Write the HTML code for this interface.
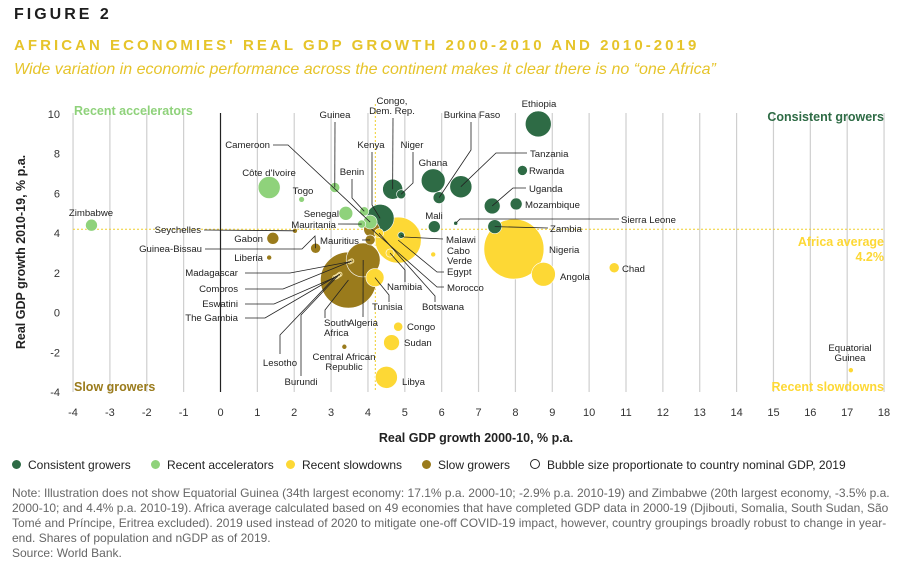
<!DOCTYPE html>
<html><head><meta charset="utf-8">
<style>
body{margin:0;width:917px;height:566px;background:#fff;font-family:"Liberation Sans",sans-serif;overflow:hidden;position:relative}
.h{position:absolute;white-space:nowrap}
svg text{font-family:"Liberation Sans",sans-serif}
</style></head><body>
<div class="h" style="left:14px;top:6px;font-size:16px;font-weight:bold;letter-spacing:3px;color:#1d1d1d">FIGURE 2</div>
<div class="h" style="left:14px;top:37px;font-size:15px;font-weight:bold;letter-spacing:3.05px;color:#e6c42a">AFRICAN ECONOMIES' REAL GDP GROWTH 2000-2010 AND 2010-2019</div>
<div class="h" style="left:14px;top:61px;font-size:16px;font-style:italic;color:#e6c42a">Wide variation in economic performance across the continent makes it clear there is no “one Africa”</div>

<svg id="chart" width="917" height="566" style="position:absolute;left:0;top:0" xmlns="http://www.w3.org/2000/svg"></svg>

<div class="h" style="left:12px;top:458px;font-size:12px;color:#222">
<span style="position:absolute;left:0"><span style="display:inline-block;width:9px;height:9px;border-radius:50%;background:#2e6b45;margin-right:7px"></span>Consistent growers</span>
<span style="position:absolute;left:139px"><span style="display:inline-block;width:9px;height:9px;border-radius:50%;background:#8fd27b;margin-right:7px"></span>Recent accelerators</span>
<span style="position:absolute;left:274px"><span style="display:inline-block;width:9px;height:9px;border-radius:50%;background:#fdd835;margin-right:7px"></span>Recent slowdowns</span>
<span style="position:absolute;left:410px"><span style="display:inline-block;width:9px;height:9px;border-radius:50%;background:#9a7b1c;margin-right:7px"></span>Slow growers</span>
<span style="position:absolute;left:518px"><span style="display:inline-block;width:8px;height:8px;border-radius:50%;border:1px solid #222;margin-right:7px"></span>Bubble size proportionate to country nominal GDP, 2019</span>
</div>
<div class="h" style="left:12px;top:486px;font-size:12px;line-height:15px;color:#666;white-space:normal;width:895px">Note: Illustration does not show Equatorial Guinea (34th largest economy: 17.1% p.a. 2000-10; -2.9% p.a. 2010-19) and Zimbabwe (20th largest economy, -3.5% p.a. 2000-10; and 4.4% p.a. 2010-19). Africa average calculated based on 49 economies that have completed GDP data in 2000-19 (Djibouti, Somalia, South Sudan, São Tomé and Príncipe, Eritrea excluded). 2019 used instead of 2020 to mitigate one-off COVID-19 impact, however, country groupings broadly robust to change in year-end. Shares of population and nGDP as of 2019.<br>Source: World Bank.</div>

<script>
const countries=["Zimbabwe","Côte d'Ivoire","Togo","Guinea","Senegal","Benin","Mauritania","Cameroon","Kenya","Seychelles","Gabon","Guinea-Bissau","Liberia","Mauritius","Morocco","Algeria","South Africa","Madagascar","Comoros","Eswatini","The Gambia","Lesotho","Burundi","Central African Republic","Egypt","Namibia","Tunisia","Congo","Sudan","Libya","Cabo Verde","Mali","Sierra Leone","Malawi","Botswana","Congo, Dem. Rep.","Niger","Ghana","Burkina Faso","Tanzania","Ethiopia","Rwanda","Uganda","Mozambique","Zambia","Nigeria","Angola","Chad","Equatorial Guinea"];
const growth0010=[-3.5,1.32,2.2,3.1,3.4,3.9,3.83,4.06,4.33,2.02,1.42,2.58,1.32,4.06,4.1,3.87,3.47,3.51,3.56,3.15,3.24,3.1,3.2,3.36,4.82,4.6,4.19,4.82,4.64,4.5,5.77,5.8,6.38,4.9,4.3,4.67,4.9,5.77,5.93,6.52,8.62,8.19,7.37,8.02,7.44,7.96,8.76,10.68,17.1];
const growth1019=[4.4,6.3,5.7,6.3,5.0,5.1,4.46,4.56,4.75,4.12,3.74,3.24,2.77,3.66,4.2,2.65,1.64,2.56,2.6,1.81,1.93,1.77,1.88,-1.72,3.65,3.0,1.76,-0.71,-1.51,-3.26,2.93,4.33,4.5,3.9,4.0,6.21,5.96,6.64,5.79,6.34,9.5,7.16,5.37,5.47,4.33,3.2,1.93,2.26,-2.9];
const gdp2019=[17,58,4,12,23,10,8,23,93,3,17,12,3,12,30,137,372,2,2,2,2,2,2,3,252,8,39,10,30,58,3,17,2,5,10,48,10,68,17,58,80,12,30,17,23,428,68,12,3];
const group=["a","a","a","a","a","a","a","a","c","s","s","s","s","s","s","s","s","o","o","o","o","o","o","s","y","y","y","y","y","y","y","c","c","c","y","c","c","c","c","c","c","c","c","c","c","y","y","y","y"];
const xTicks=[-4,-3,-2,-1,0,1,2,3,4,5,6,7,8,9,10,11,12,13,14,15,16,17,18];
const yTicks=[10,8,6,4,2,0,-2,-4];
const africaAvg=4.2;
const labels=[
["Zimbabwe",[91,216],"middle",null],["Côte d'Ivoire",[269,176],"middle",null],["Togo",[303,194],"middle",null],
["Guinea",[335,118],"middle",[[335,122]]],["Cameroon",[270,148],"end",[[273,145],[288,145]]],
["Benin",[352,175],"middle",[[352,179],[352,198]]],["Kenya",[371,148],"middle",[[372,152],[372,205]]],
["Senegal",[339,217],"end",null],["Mauritania",[336,228],"end",[[338,224]]],["Seychelles",[201,233],"end",[[204,230]]],
["Gabon",[263,242],"end",null],["Guinea-Bissau",[202,252],"end",[[205,249],[302,249],[315,236]]],["Liberia",[263,261],"end",null],
["Mauritius",[320,244],"start",[[362,240]]],["Madagascar",[238,276],"end",[[245,273],[290,273]]],["Comoros",[238,292],"end",[[245,289],[283,289]]],
["Eswatini",[238,307],"end",[[245,304],[274,304]]],["The Gambia",[238,321],"end",[[245,318],[265,318]]],
["South|Africa",[324,326],"start",[[325,318],[325,310]]],["Algeria",[363,326],"middle",[[363,317]]],
["Lesotho",[280,366],"middle",[[280,354],[280,335]]],["Burundi",[301,385],"middle",[[301,376],[301,315]]],
["Central African|Republic",[344,360],"middle",null],["Namibia",[387,290],"start",[[405,282],[405,270]]],
["Tunisia",[372,310],"start",[[389,302],[389,295]]],["Botswana",[422,310],"start",[[435,302],[435,296]]],
["Congo",[407,330],"start",null],["Sudan",[404,346],"start",null],["Libya",[402,385],"start",null],
["Congo,|Dem. Rep.",[392,104],"middle",[[393,118]]],["Niger",[412,148],"middle",[[413,152],[413,183]]],
["Ghana",[433,166],"middle",null],["Burkina Faso",[472,118],"middle",[[471,122],[471,150]]],
["Ethiopia",[539,107],"middle",null],["Tanzania",[530,157],"start",[[527,153],[496,153]]],["Rwanda",[529,174],"start",null],
["Uganda",[529,192],"start",[[526,188],[513,188]]],["Mozambique",[525,208],"start",null],["Mali",[434,219],"middle",null],
["Sierra Leone",[621,223],"start",[[619,219],[460,219]]],["Zambia",[550,232],"start",[[548,228]]],
["Malawi",[446,243],"start",[[443,239],[404,237]]],["Cabo|Verde",[447,254],"start",null],["Egypt",[447,275],"start",[[444,272],[437,272]]],
["Morocco",[447,291],"start",[[444,287],[437,287]]],["Nigeria",[549,253],"start",null],["Angola",[560,280],"start",null],
["Chad",[622,272],"start",null],["Equatorial|Guinea",[850,351],"middle",null]];
const colors={c:"#2e6b45",a:"#8fd27b",y:"#fdd835",s:"#9a7b1c",o:"#9a7b1c"};
const X=v=>220.5+v*36.864, Y=v=>312.6-v*19.857;
const svg=document.getElementById('chart'), NS="http://www.w3.org/2000/svg";
function mk(t,a){const e=document.createElementNS(NS,t);for(const k in a)e.setAttribute(k,a[k]);svg.appendChild(e);return e;}
xTicks.forEach(t=>{
  const l=mk('line',{x1:X(t),x2:X(t),y1:113,y2:392,stroke:t===0?'#222':'#cfcfcf','stroke-width':1.2});
  
  
  const tx=mk('text',{x:X(t),y:416,'text-anchor':'middle','font-size':11,fill:'#333'});tx.textContent=t;
  
  
});
yTicks.forEach(t=>{
  const tx=mk('text',{x:60,y:Y(t)+4,'text-anchor':'end','font-size':11,fill:'#333'});tx.textContent=t;
  
  
});
let av=mk('line',{x1:X(africaAvg),x2:X(africaAvg),y1:104,y2:392,stroke:'#f0cf2c','stroke-dasharray':'2,2'});


av=mk('line',{x1:73,x2:884,y1:Y(africaAvg),y2:Y(africaAvg),stroke:'#f0cf2c','stroke-dasharray':'2,2'});


const idx=countries.map((c,i)=>i).sort((a,b)=>gdp2019[b]-gdp2019[a]);
idx.forEach(i=>{
  const o=group[i]==='o';
  const c=mk('circle',{cx:X(growth0010[i]),cy:Y(growth1019[i]),r:1.45*Math.sqrt(gdp2019[i]),fill:o?'none':colors[group[i]],stroke:o?'#f4e3a6':'#fff','stroke-width':o?1:0.6});
  
  
});
labels.forEach(L=>{
  let ci=countries.indexOf(L[0].replace('|',' '));
  if(L[3]&&ci>=0){
    const pts=L[3].concat([[X(growth0010[ci]),Y(growth1019[ci])]]).map(p=>p.join(',')).join(' ');
    const p=mk('polyline',{points:pts,fill:'none',stroke:'#222','stroke-width':0.8});
    
    
  }
  L[0].split('|').forEach((s,k)=>{
    const t=mk('text',{x:L[1][0],y:L[1][1]+k*10,'text-anchor':L[2],'font-size':9.6,fill:'#222'});t.textContent=s;
    
    
  });
});
function q(txt,x,y,anc,col,name){const t=mk('text',{x:x,y:y,'text-anchor':anc,'font-size':12.5,'font-weight':'bold',fill:col});t.textContent=txt;
  
  }
q("Recent accelerators",74,115,'start','#8fd27b','quadrant-recent-accelerators');
q("Consistent growers",884,121,'end','#2e6b45','quadrant-consistent-growers');
q("Slow growers",74,391,'start','#9a7b1c','quadrant-slow-growers');
q("Recent slowdowns",884,391,'end','#fdd835','quadrant-recent-slowdowns');
q("Africa average",884,246,'end','#fdd835','africa-average-label');
q("4.2%",884,261,'end','#fdd835','africa-average-value');
let t=mk('text',{x:476,y:442,'text-anchor':'middle','font-size':12.5,'font-weight':'bold',fill:'#222'});t.textContent="Real GDP growth 2000-10, % p.a.";


t=mk('text',{x:0,y:0,'text-anchor':'middle','font-size':12.5,'font-weight':'bold',fill:'#222',transform:'translate(25,252) rotate(-90)'});t.textContent="Real GDP growth 2010-19, % p.a.";


</script>
</body></html>
